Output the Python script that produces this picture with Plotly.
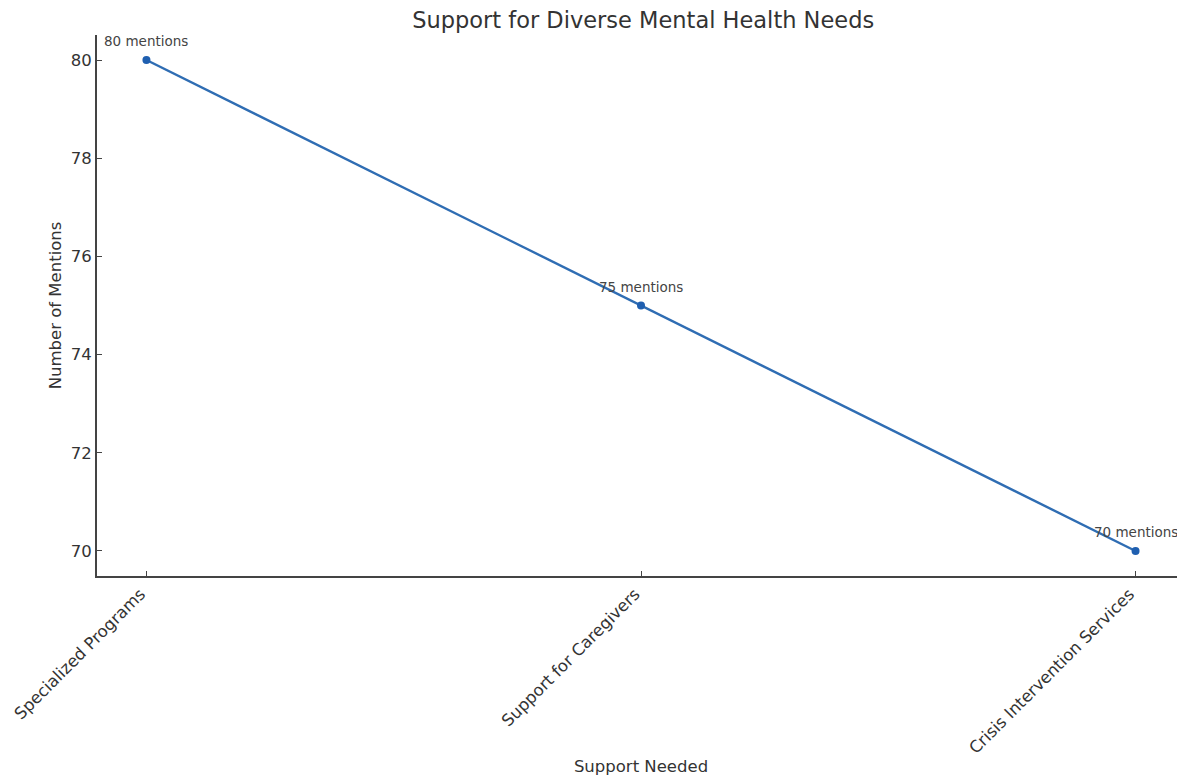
import plotly.graph_objects as go

categories = ["Specialized Programs", "Support for Caregivers", "Crisis Intervention Services"]
mentions = [80, 75, 70]
labels = [f"{v} mentions" for v in mentions]

fig = go.Figure()
fig.add_trace(go.Scatter(
    x=categories, y=mentions, mode="lines+markers",
    line=dict(color="#2f6db3", width=2.4),
    marker=dict(color="#1f5fb0", size=8),
    showlegend=False,
))
for c, v, t in zip(categories, mentions, labels):
    fig.add_annotation(x=c, y=v, text=t, showarrow=False, yshift=19,
                       font=dict(size=13.5, color="#444"))

fig.update_layout(
    width=1185, height=779,
    paper_bgcolor="white", plot_bgcolor="white",
    font=dict(family="DejaVu Sans", color="#333"),
    title=dict(text="Support for Diverse Mental Health Needs", x=0.536, xanchor="center",
               y=0.995, yanchor="top", pad=dict(t=0, b=0),
               font=dict(size=22.5, color="#333")),
    margin=dict(l=89, r=8, t=27, b=211, autoexpand=False),
    xaxis=dict(
        type="category", range=[-0.1, 2.1],
        tickangle=-45, tickfont=dict(size=16.5, color="#333"),
        ticklabelshift=-6,
        showline=True, linecolor="#444", linewidth=2,
        ticks="inside", ticklen=5, tickcolor="#444",
        showgrid=False, zeroline=False, automargin=False,
        title=dict(text="Support Needed", font=dict(size=16.5, color="#333"), standoff=4),
    ),
    yaxis=dict(
        range=[69.49, 80.51], tickvals=[70, 72, 74, 76, 78, 80],
        tickfont=dict(size=16.5, color="#333"),
        showline=True, linecolor="#444", linewidth=2,
        ticks="inside", ticklen=5, tickcolor="#444",
        showgrid=False, zeroline=False, automargin=False,
        title=dict(text="Number of Mentions", font=dict(size=16.5, color="#333"), standoff=5),
    ),
)
fig.write_html("out.html")
